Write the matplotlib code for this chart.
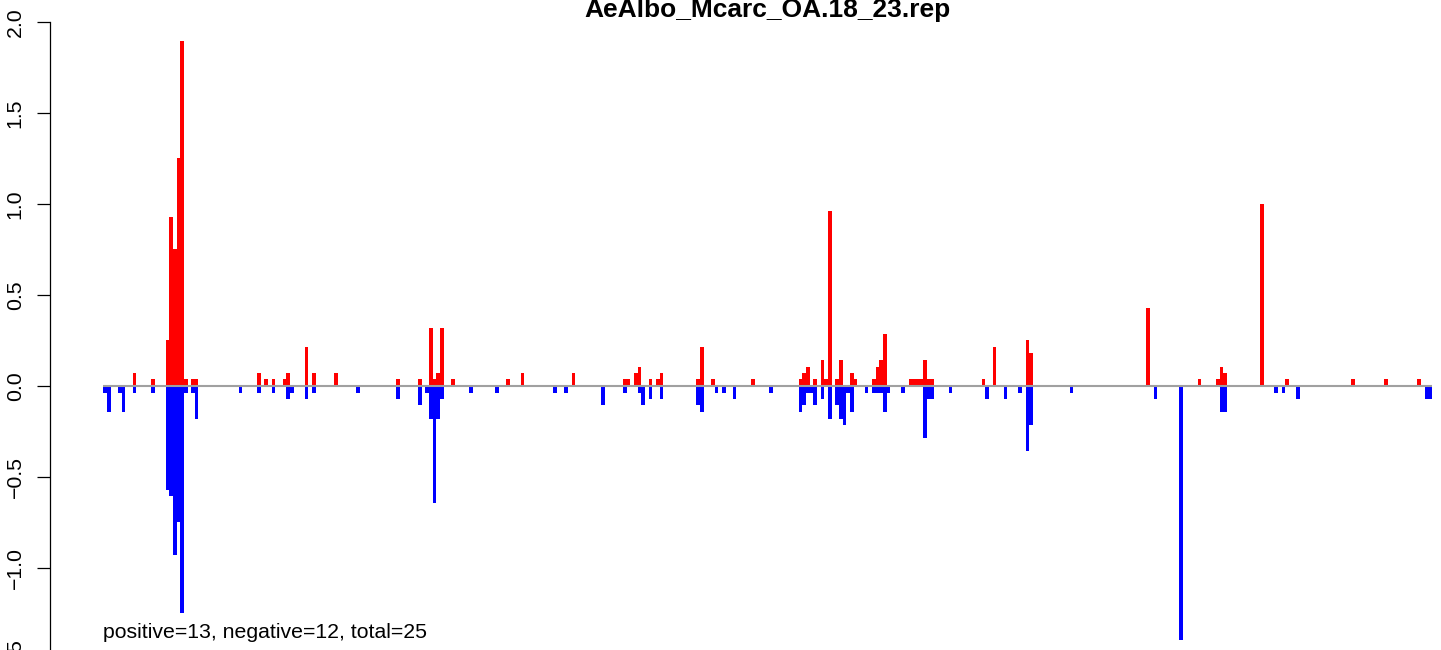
import matplotlib
matplotlib.use("Agg")
import matplotlib.pyplot as plt

plt.rcParams['font.family'] = ['Liberation Sans', 'DejaVu Sans']

title = "AeAlbo_Mcarc_OA.18_23.rep"
note = "positive=13, negative=12, total=25"
n_bars = 363

# positive scores (red), by bar index
pos_idx = [8, 13, 17, 18, 19, 20, 21, 22, 24, 25, 42, 44, 46, 49, 50, 55, 57, 63,
           80, 86, 89, 90, 91, 92, 95, 110, 114, 128, 142, 143, 145, 146, 149, 151,
           152, 162, 163, 166, 177, 190, 191, 192, 194, 196, 197, 198, 200, 201, 204,
           205, 210, 211, 212, 213, 220, 221, 222, 223, 224, 225, 226, 240, 243, 252,
           253, 285, 299, 304, 305, 306, 316, 323, 341, 350, 359]
pos_val = [0.071, 0.036, 0.25, 0.929, 0.75, 1.25, 1.893, 0.036, 0.036, 0.036, 0.071,
           0.036, 0.036, 0.036, 0.071, 0.214, 0.071, 0.071,
           0.036, 0.036, 0.321, 0.036, 0.071, 0.321, 0.036, 0.036, 0.071, 0.071, 0.036,
           0.036, 0.071, 0.107, 0.036, 0.036,
           0.071, 0.036, 0.214, 0.036, 0.036, 0.036, 0.071, 0.107, 0.036, 0.143, 0.036,
           0.964, 0.036, 0.143, 0.071,
           0.036, 0.036, 0.107, 0.143, 0.286, 0.036, 0.036, 0.036, 0.036, 0.143, 0.036,
           0.036, 0.036, 0.214, 0.25,
           0.179, 0.429, 0.036, 0.036, 0.107, 0.071, 1.0, 0.036, 0.036, 0.036, 0.036]

# negative scores (blue), by bar index
neg_idx = [0, 1, 4, 5, 8, 13, 17, 18, 19, 20, 21, 22, 24, 25, 37, 42, 46, 50, 51, 55,
           57, 69, 80, 86, 88, 89, 90, 91, 92, 100, 107, 123, 126, 136, 142, 146, 147,
           149, 152, 162, 163, 167, 169, 172, 182, 190, 191, 192, 193, 194, 196, 198,
           200, 201, 202, 203, 204, 208, 210, 211, 212, 213, 214, 218, 224, 225, 226,
           231, 241, 246, 250, 252, 253, 264, 287, 294, 305, 306, 320, 322, 326, 361, 362]
neg_val = [-0.036, -0.143, -0.036, -0.143, -0.036, -0.036, -0.571, -0.607, -0.929, -0.75,
           -1.25, -0.036, -0.036, -0.179, -0.036, -0.036, -0.036, -0.071, -0.036, -0.071,
           -0.036, -0.036, -0.071, -0.107, -0.036, -0.179, -0.643, -0.179, -0.071, -0.036,
           -0.036, -0.036, -0.036, -0.107, -0.036, -0.036, -0.107,
           -0.071, -0.071, -0.107, -0.143, -0.036, -0.036, -0.071, -0.036, -0.143, -0.107,
           -0.036, -0.036, -0.107, -0.071, -0.179,
           -0.107, -0.179, -0.214, -0.036, -0.143, -0.036, -0.036, -0.036, -0.036, -0.143,
           -0.036, -0.036, -0.286, -0.071, -0.071,
           -0.036, -0.071, -0.071, -0.036, -0.357, -0.214, -0.036, -0.071, -1.393, -0.143,
           -0.143, -0.036, -0.036, -0.071, -0.071, -0.071]

W, H = 1441, 650
fig = plt.figure(figsize=(W / 100, H / 100), dpi=100)

# plot region: x from 50 px to 1485 px (runs past the right edge), y from 22 px down past the bottom
ax = fig.add_axes([50.2 / W, (H - 700) / H, 1434.8 / W, 678 / H])
ax.set_xlim(-0.04 * n_bars, 1.04 * n_bars)
ax.set_ylim(-1.7253, 2.0)

ax.bar(pos_idx, pos_val, width=1, align='edge', color='#ff0000', linewidth=0, antialiased=False)
ax.bar(neg_idx, neg_val, width=1, align='edge', color='#0000ff', linewidth=0, antialiased=False)
ax.hlines(0, 0, n_bars, colors='#a0a0a0', linewidth=1.5, zorder=3)

for s in ['top', 'right', 'bottom']:
    ax.spines[s].set_visible(False)
ax.spines['left'].set_bounds(-1.5, 2.0)
ax.spines['left'].set_linewidth(0.9)
ax.set_xticks([])
ax.set_yticks([-1.5, -1.0, -0.5, 0.0, 0.5, 1.0, 1.5, 2.0])
ax.tick_params(axis='y', direction='out', length=9.4, width=0.9, labelsize=15.3,
               labelrotation=90, pad=9)
for lbl in ax.get_yticklabels():
    lbl.set_va('center')
ax.patch.set_alpha(0)

ax.text(0, -1.385, note, ha='left', va='baseline', fontsize=15.3)
fig.text(767.6 / W, (H - 17) / H, title, ha='center', va='baseline',
         fontsize=19, fontweight='bold')

fig.savefig('out.png', dpi=100)
